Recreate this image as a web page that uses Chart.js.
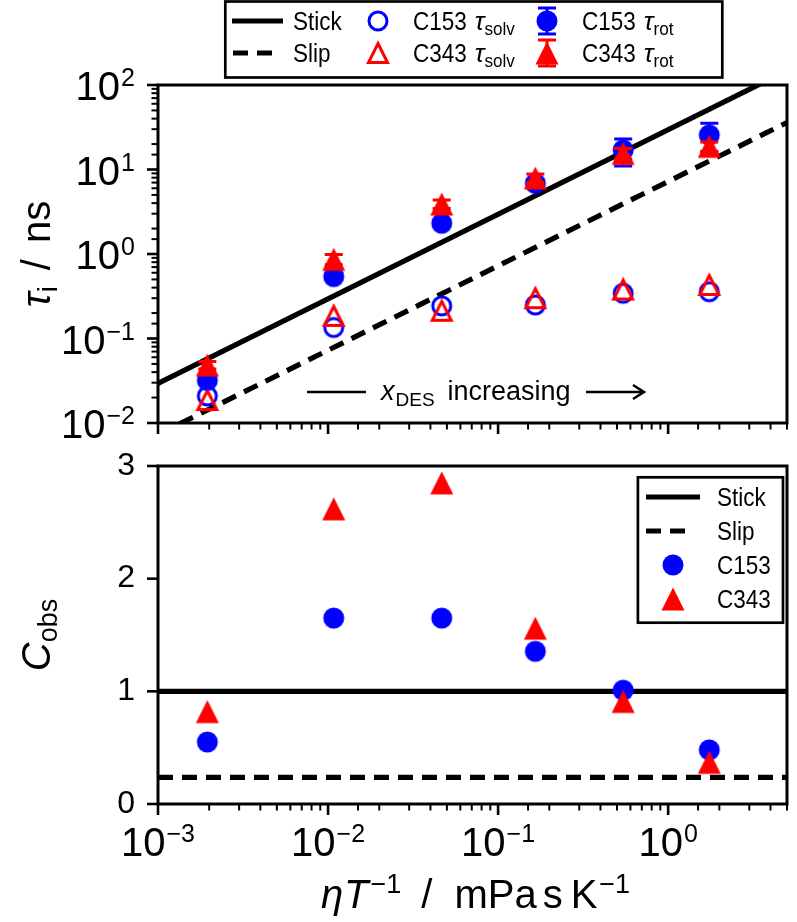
<!DOCTYPE html>
<html>
<head>
<meta charset="utf-8">
<script src="https://cdn.jsdelivr.net/npm/chart.js@4.4.0/dist/chart.umd.min.js"></script>
<style>
  html, body { margin: 0; padding: 0; background: #fff; }
  #wrap { position: relative; width: 797px; height: 922px; overflow: hidden; }
  canvas { position: absolute; left: 0; }
  #tauChart { top: 0; }
  #cobsChart { top: 430px; }
</style>
</head>
<body>
<div id="wrap">
  <canvas id="tauChart" width="797" height="445"></canvas>
  <canvas id="cobsChart" width="797" height="492"></canvas>
</div>
<script>
// eta / T for each mixture, mPa s K^-1
const etaOverT = [0.00195, 0.0108, 0.0466, 0.1656, 0.544, 1.746];

// top panel: times in ns
const c153Solv = [0.0209, 0.135, 0.243, 0.249, 0.343, 0.358];
const c343Solv = [0.0187, 0.185, 0.213, 0.300, 0.380, 0.430];
const c153Rot = [0.032, 0.54, 2.31, 6.86, 17.0, 25.6];
const c153RotErr = [0.003, 0.04, 0.15, 0.6, 6.0, 9.6];
const c343Rot = [0.0485, 0.865, 3.9, 7.93, 15.5, 18.8];
const c343RotErr = [0.005, 0.12, 0.45, 0.9, 2.2, 2.4];

// hydrodynamic limits (end points of the lines)
const limitX = [0.001, 5];
const stickTau = [0.0295, 148];
const slipTau = [0.0073, 36];

// bottom panel: C_obs
const c153Cobs = [0.55, 1.65, 1.65, 1.355, 1.01, 0.48];
const c343Cobs = [0.82, 2.62, 2.85, 1.56, 0.91, 0.37];
const stickC = [1, 1];
const slipC = [0.237, 0.237];

// tick labels (powers of ten)
const xTickExp = [-3, -2, -1, 0];
const yTickExp = [-2, -1, 0, 1, 2];

const FONT = '"Liberation Sans", Arial, Helvetica, sans-serif';
const BLUE = '#0000ff';
const RED = '#ff0000';
const LW = 5.2;
const DASH = [15, 9];

const pts = (xs, ys) => xs.map((x, i) => ({x: x, y: ys[i]}));

function isPow10(v) {
  const l = Math.log10(v);
  return Math.abs(l - Math.round(l)) < 1e-9;
}

function marker(shape, color, filled, size, lw) {
  const w = 2 * Math.ceil((size + 2 * lw + 6) / 2);
  const c = document.createElement('canvas');
  c.width = w; c.height = w;
  const g = c.getContext('2d');
  const m = w / 2, h = size / 2;
  g.beginPath();
  if (shape === 'circle') {
    g.arc(m, m, h, 0, Math.PI * 2);
  } else {
    g.moveTo(m, m - h); g.lineTo(m + h, m + h); g.lineTo(m - h, m + h); g.closePath();
  }
  if (filled) { g.fillStyle = color; g.fill(); }
  else { g.strokeStyle = color; g.lineWidth = lw; g.lineJoin = 'miter'; g.stroke(); }
  return c;
}

function errMarker(base, color) {
  const c = document.createElement('canvas');
  c.width = 30; c.height = 34;
  const g = c.getContext('2d');
  g.strokeStyle = color; g.lineWidth = 3;
  g.beginPath();
  g.moveTo(15, 4); g.lineTo(15, 30);
  g.moveTo(6, 4); g.lineTo(24, 4);
  g.moveTo(6, 30); g.lineTo(24, 30);
  g.stroke();
  g.drawImage(base, 15 - base.width / 2, 17 - base.height / 2);
  return c;
}

const dotBlue = marker('circle', BLUE, true, 21, 0);
const ringBlue = marker('circle', BLUE, false, 18, 3);
const triRed = marker('triangle', RED, true, 23, 0);
const triRedOpen = marker('triangle', RED, false, 19, 3);
const dotBlueErr = errMarker(dotBlue, BLUE);
const triRedErr = errMarker(triRed, RED);

function setFont(ctx, size, italic) {
  ctx.font = (italic ? 'italic ' : '') + size + 'px ' + FONT;
}

// draws a row of text pieces (sub/superscripts via dy)
function rich(ctx, segs, x, y, align) {
  const widths = segs.map(s => {
    setFont(ctx, s.size, s.italic);
    return (s.pre || 0) + ctx.measureText(s.t).width * (s.sx || 1);
  });
  const total = widths.reduce((p, q) => p + q, 0);
  let cx = align === 'center' ? x - total / 2 : (align === 'right' ? x - total : x);
  ctx.textAlign = 'left';
  ctx.textBaseline = 'alphabetic';
  ctx.fillStyle = '#000';
  segs.forEach((s, i) => {
    setFont(ctx, s.size, s.italic);
    ctx.save();
    ctx.translate(cx + (s.pre || 0), y + (s.dy || 0));
    ctx.scale(s.sx || 1, 1);
    ctx.fillText(s.t, 0, 0);
    ctx.restore();
    cx += widths[i];
  });
}

function rotated(ctx, segs, x, y) {
  ctx.save();
  ctx.translate(x, y);
  ctx.rotate(-Math.PI / 2);
  rich(ctx, segs, 0, 0, 'center');
  ctx.restore();
}

function powSegs(e) {
  return [
    {t: '10', size: 40},
    {t: (e < 0 ? '\u2212' : '') + Math.abs(e), size: 25, dy: -14, pre: 1}
  ];
}

function drawFrame(ctx, a) {
  ctx.strokeStyle = '#000';
  ctx.lineWidth = 3;
  ctx.strokeRect(a.left, a.top, a.width, a.height);
}

function drawTicks(ctx, scale, a, horizontal, logScale) {
  ctx.strokeStyle = '#000';
  scale.ticks.forEach(t => {
    const major = logScale ? isPow10(t.value) : true;
    const len = major ? 11 : 6.5;
    const p = scale.getPixelForValue(t.value);
    ctx.lineWidth = major ? 2.6 : 2;
    ctx.beginPath();
    if (horizontal) { ctx.moveTo(p, a.bottom); ctx.lineTo(p, a.bottom + len); }
    else { ctx.moveTo(a.left, p); ctx.lineTo(a.left - len, p); }
    ctx.stroke();
  });
}

function drawErrorBars(chart, index) {
  const ds = chart.data.datasets[index];
  if (!ds.errors) return;
  const ctx = chart.ctx, a = chart.chartArea;
  const xs = chart.scales.x, ys = chart.scales.y;
  ctx.save();
  ctx.beginPath();
  ctx.rect(a.left, a.top, a.width, a.height);
  ctx.clip();
  ctx.strokeStyle = ds.errorColor;
  ctx.lineWidth = 3;
  ds.data.forEach((p, i) => {
    const e = ds.errors[i];
    const px = xs.getPixelForValue(p.x);
    const top = ys.getPixelForValue(p.y + e);
    const bot = ys.getPixelForValue(Math.max(p.y - e, ys.min));
    ctx.beginPath();
    ctx.moveTo(px, top); ctx.lineTo(px, bot);
    ctx.moveTo(px - 9, top); ctx.lineTo(px + 9, top);
    ctx.moveTo(px - 9, bot); ctx.lineTo(px + 9, bot);
    ctx.stroke();
  });
  ctx.restore();
}

function legendLine(ctx, x0, x1, y, dashed) {
  ctx.save();
  ctx.strokeStyle = '#000';
  ctx.lineWidth = LW;
  ctx.lineCap = 'butt';
  ctx.setLineDash(dashed ? DASH : []);
  ctx.beginPath(); ctx.moveTo(x0, y); ctx.lineTo(x1, y); ctx.stroke();
  ctx.restore();
}

function legendBox(ctx, x0, y0, x1, y1) {
  ctx.fillStyle = '#fff';
  ctx.fillRect(x0, y0, x1 - x0, y1 - y0);
  ctx.strokeStyle = '#000';
  ctx.lineWidth = 2.7;
  ctx.strokeRect(x0, y0, x1 - x0, y1 - y0);
}

function img(ctx, c, x, y) {
  ctx.drawImage(c, Math.round(x - c.width / 2), Math.round(y - c.height / 2));
}

const tauLabel = (name, sub) => [
  {t: name, size: 25, sx: 0.9},
  {t: '\u03c4', size: 26, italic: true, pre: 8},
  {t: sub, size: 19, dy: 5, sx: 0.9}
];

const tauDecor = {
  id: 'tauDecor',
  beforeDatasetDraw(chart, args) { drawErrorBars(chart, args.index); },
  afterDatasetsDraw(chart) {
    const ctx = chart.ctx, a = chart.chartArea;
    const xs = chart.scales.x, ys = chart.scales.y;
    ctx.save();

    // x_DES increasing note
    const ny = a.top + 307;
    ctx.strokeStyle = '#000';
    ctx.lineWidth = 2.5;
    ctx.beginPath();
    ctx.moveTo(a.left + 149, ny); ctx.lineTo(a.left + 208, ny);
    ctx.moveTo(a.left + 428, ny); ctx.lineTo(a.left + 486, ny);
    ctx.moveTo(a.left + 475, ny - 7); ctx.lineTo(a.left + 486, ny); ctx.lineTo(a.left + 475, ny + 7);
    ctx.stroke();
    rich(ctx, [
      {t: 'x', size: 27, italic: true},
      {t: 'DES', size: 19, dy: 6, pre: 1},
      {t: 'increasing', size: 27, pre: 13}
    ], a.left + 223, ny + 8, 'left');

    drawFrame(ctx, a);
    drawTicks(ctx, xs, a, true, true);
    drawTicks(ctx, ys, a, false, true);
    yTickExp.forEach(e => rich(ctx, powSegs(e), a.left - 23, ys.getPixelForValue(Math.pow(10, e)) + 15, 'right'));

    rotated(ctx, [
      {t: '\u03c4', size: 40, italic: true},
      {t: 'i', size: 27, dy: 7},
      {t: '/', size: 40, pre: 16},
      {t: 'ns', size: 40, pre: 16}
    ], 50, (a.top + a.bottom) / 2);

    // top legend
    legendBox(ctx, 225.3, 1.5, 722.3, 77.5);
    const r1 = 21, r2 = 53;
    legendLine(ctx, 232, 283, r1, false);
    legendLine(ctx, 233, 272, r2, true);
    rich(ctx, [{t: 'Stick', size: 25, sx: 0.9}], 293, r1 + 9, 'left');
    rich(ctx, [{t: 'Slip', size: 25, sx: 0.9}], 293, r2 + 9, 'left');
    img(ctx, ringBlue, 377.7, r1);
    img(ctx, triRedOpen, 377.7, r2);
    rich(ctx, tauLabel('C153', 'solv'), 413, r1 + 9, 'left');
    rich(ctx, tauLabel('C343', 'solv'), 413, r2 + 9, 'left');
    img(ctx, dotBlueErr, 546.7, r1);
    img(ctx, triRedErr, 546.7, r2);
    rich(ctx, tauLabel('C153', 'rot'), 582, r1 + 9, 'left');
    rich(ctx, tauLabel('C343', 'rot'), 582, r2 + 9, 'left');
    ctx.restore();
  }
};

const cobsDecor = {
  id: 'cobsDecor',
  afterDatasetsDraw(chart) {
    const ctx = chart.ctx, a = chart.chartArea;
    const xs = chart.scales.x, ys = chart.scales.y;
    ctx.save();
    drawFrame(ctx, a);
    drawTicks(ctx, xs, a, true, true);
    drawTicks(ctx, ys, a, false, false);
    xTickExp.forEach(e => rich(ctx, powSegs(e), xs.getPixelForValue(Math.pow(10, e)), a.bottom + 52, 'center'));

    rich(ctx, [
      {t: '\u03b7', size: 40, italic: true},
      {t: 'T', size: 40, italic: true, pre: 1},
      {t: '\u22121', size: 27, dy: -15, pre: 2},
      {t: '/', size: 40, pre: 20},
      {t: 'mPa', size: 40, pre: 22},
      {t: 's', size: 40, pre: 6},
      {t: 'K', size: 40, pre: 8},
      {t: '\u22121', size: 27, dy: -15, pre: 2}
    ], (a.left + a.right) / 2 + 3, a.bottom + 104, 'center');

    rotated(ctx, [
      {t: 'C', size: 40, italic: true},
      {t: 'obs', size: 27, dy: 7}
    ], 50, (a.top + a.bottom) / 2);

    // legend in the upper right corner
    legendBox(ctx, 637.9, 47.3, 783, 192.7);
    const rows = [67, 101, 135, 169];
    legendLine(ctx, 646, 700, rows[0], false);
    legendLine(ctx, 646, 694, rows[1], true);
    img(ctx, dotBlue, 673, rows[2]);
    img(ctx, triRed, 673, rows[3]);
    ['Stick', 'Slip', 'C153', 'C343'].forEach((t, i) =>
      rich(ctx, [{t: t, size: 25, sx: 0.9}], 717, rows[i] + 9, 'left'));
    ctx.restore();
  }
};

function logAxis(min, max, fitSize, horizontal) {
  return {
    type: 'logarithmic',
    min: min,
    max: max,
    ticks: {display: false, autoSkip: false},
    grid: {display: true, drawOnChartArea: false, drawTicks: true, tickLength: 11, tickColor: 'rgba(0,0,0,0)'},
    border: {display: false},
    afterFit: s => { if (horizontal) s.height = fitSize; else s.width = fitSize; }
  };
}

const common = {
  responsive: false,
  animation: false,
  devicePixelRatio: 1,
  events: [],
  plugins: {legend: {display: false}, tooltip: {enabled: false}, title: {display: false}}
};

const lineSet = (data, dashed, order) => ({
  type: 'line',
  data: data,
  borderColor: '#000',
  borderWidth: LW,
  borderDash: dashed ? DASH : [],
  borderCapStyle: 'butt',
  pointRadius: 0,
  showLine: true,
  fill: false,
  order: order
});

const pointSet = (data, style, order, extra) => Object.assign({
  data: data,
  pointStyle: style,
  pointRadius: 10,
  pointBorderWidth: 0,
  backgroundColor: 'rgba(0,0,0,0)',
  borderColor: 'rgba(0,0,0,0)',
  showLine: false,
  order: order
}, extra || {});

new Chart(document.getElementById('tauChart'), {
  type: 'scatter',
  data: {
    datasets: [
      pointSet(pts(etaOverT, c343Rot), triRed, 0, {errors: c343RotErr, errorColor: RED}),
      pointSet(pts(etaOverT, c153Rot), dotBlue, 1, {errors: c153RotErr, errorColor: BLUE}),
      pointSet(pts(etaOverT, c343Solv), triRedOpen, 2),
      pointSet(pts(etaOverT, c153Solv), ringBlue, 3),
      lineSet(pts(limitX, slipTau), true, 4),
      lineSet(pts(limitX, stickTau), false, 5)
    ]
  },
  options: Object.assign({}, common, {
    layout: {padding: {left: 0, right: 2, top: 85, bottom: 0}},
    scales: {
      x: logAxis(0.001, 5, 22, true),
      y: logAxis(0.01, 100, 158, false)
    }
  }),
  plugins: [tauDecor]
});

new Chart(document.getElementById('cobsChart'), {
  type: 'scatter',
  data: {
    datasets: [
      pointSet(pts(etaOverT, c343Cobs), triRed, 0),
      pointSet(pts(etaOverT, c153Cobs), dotBlue, 1),
      lineSet(pts(limitX, slipC), true, 2),
      lineSet(pts(limitX, stickC), false, 3)
    ]
  },
  options: Object.assign({}, common, {
    layout: {padding: {left: 0, right: 2, top: 36, bottom: 0}},
    scales: {
      x: logAxis(0.001, 5, 118, true),
      y: {
        type: 'linear',
        min: 0,
        max: 3,
        ticks: {stepSize: 1, padding: 12, color: '#000', font: {family: FONT, size: 32}},
        grid: {display: true, drawOnChartArea: false, drawTicks: true, tickLength: 11, tickColor: 'rgba(0,0,0,0)'},
        border: {display: false},
        afterFit: s => { s.width = 158; }
      }
    }
  }),
  plugins: [cobsDecor]
});
</script>
</body>
</html>
